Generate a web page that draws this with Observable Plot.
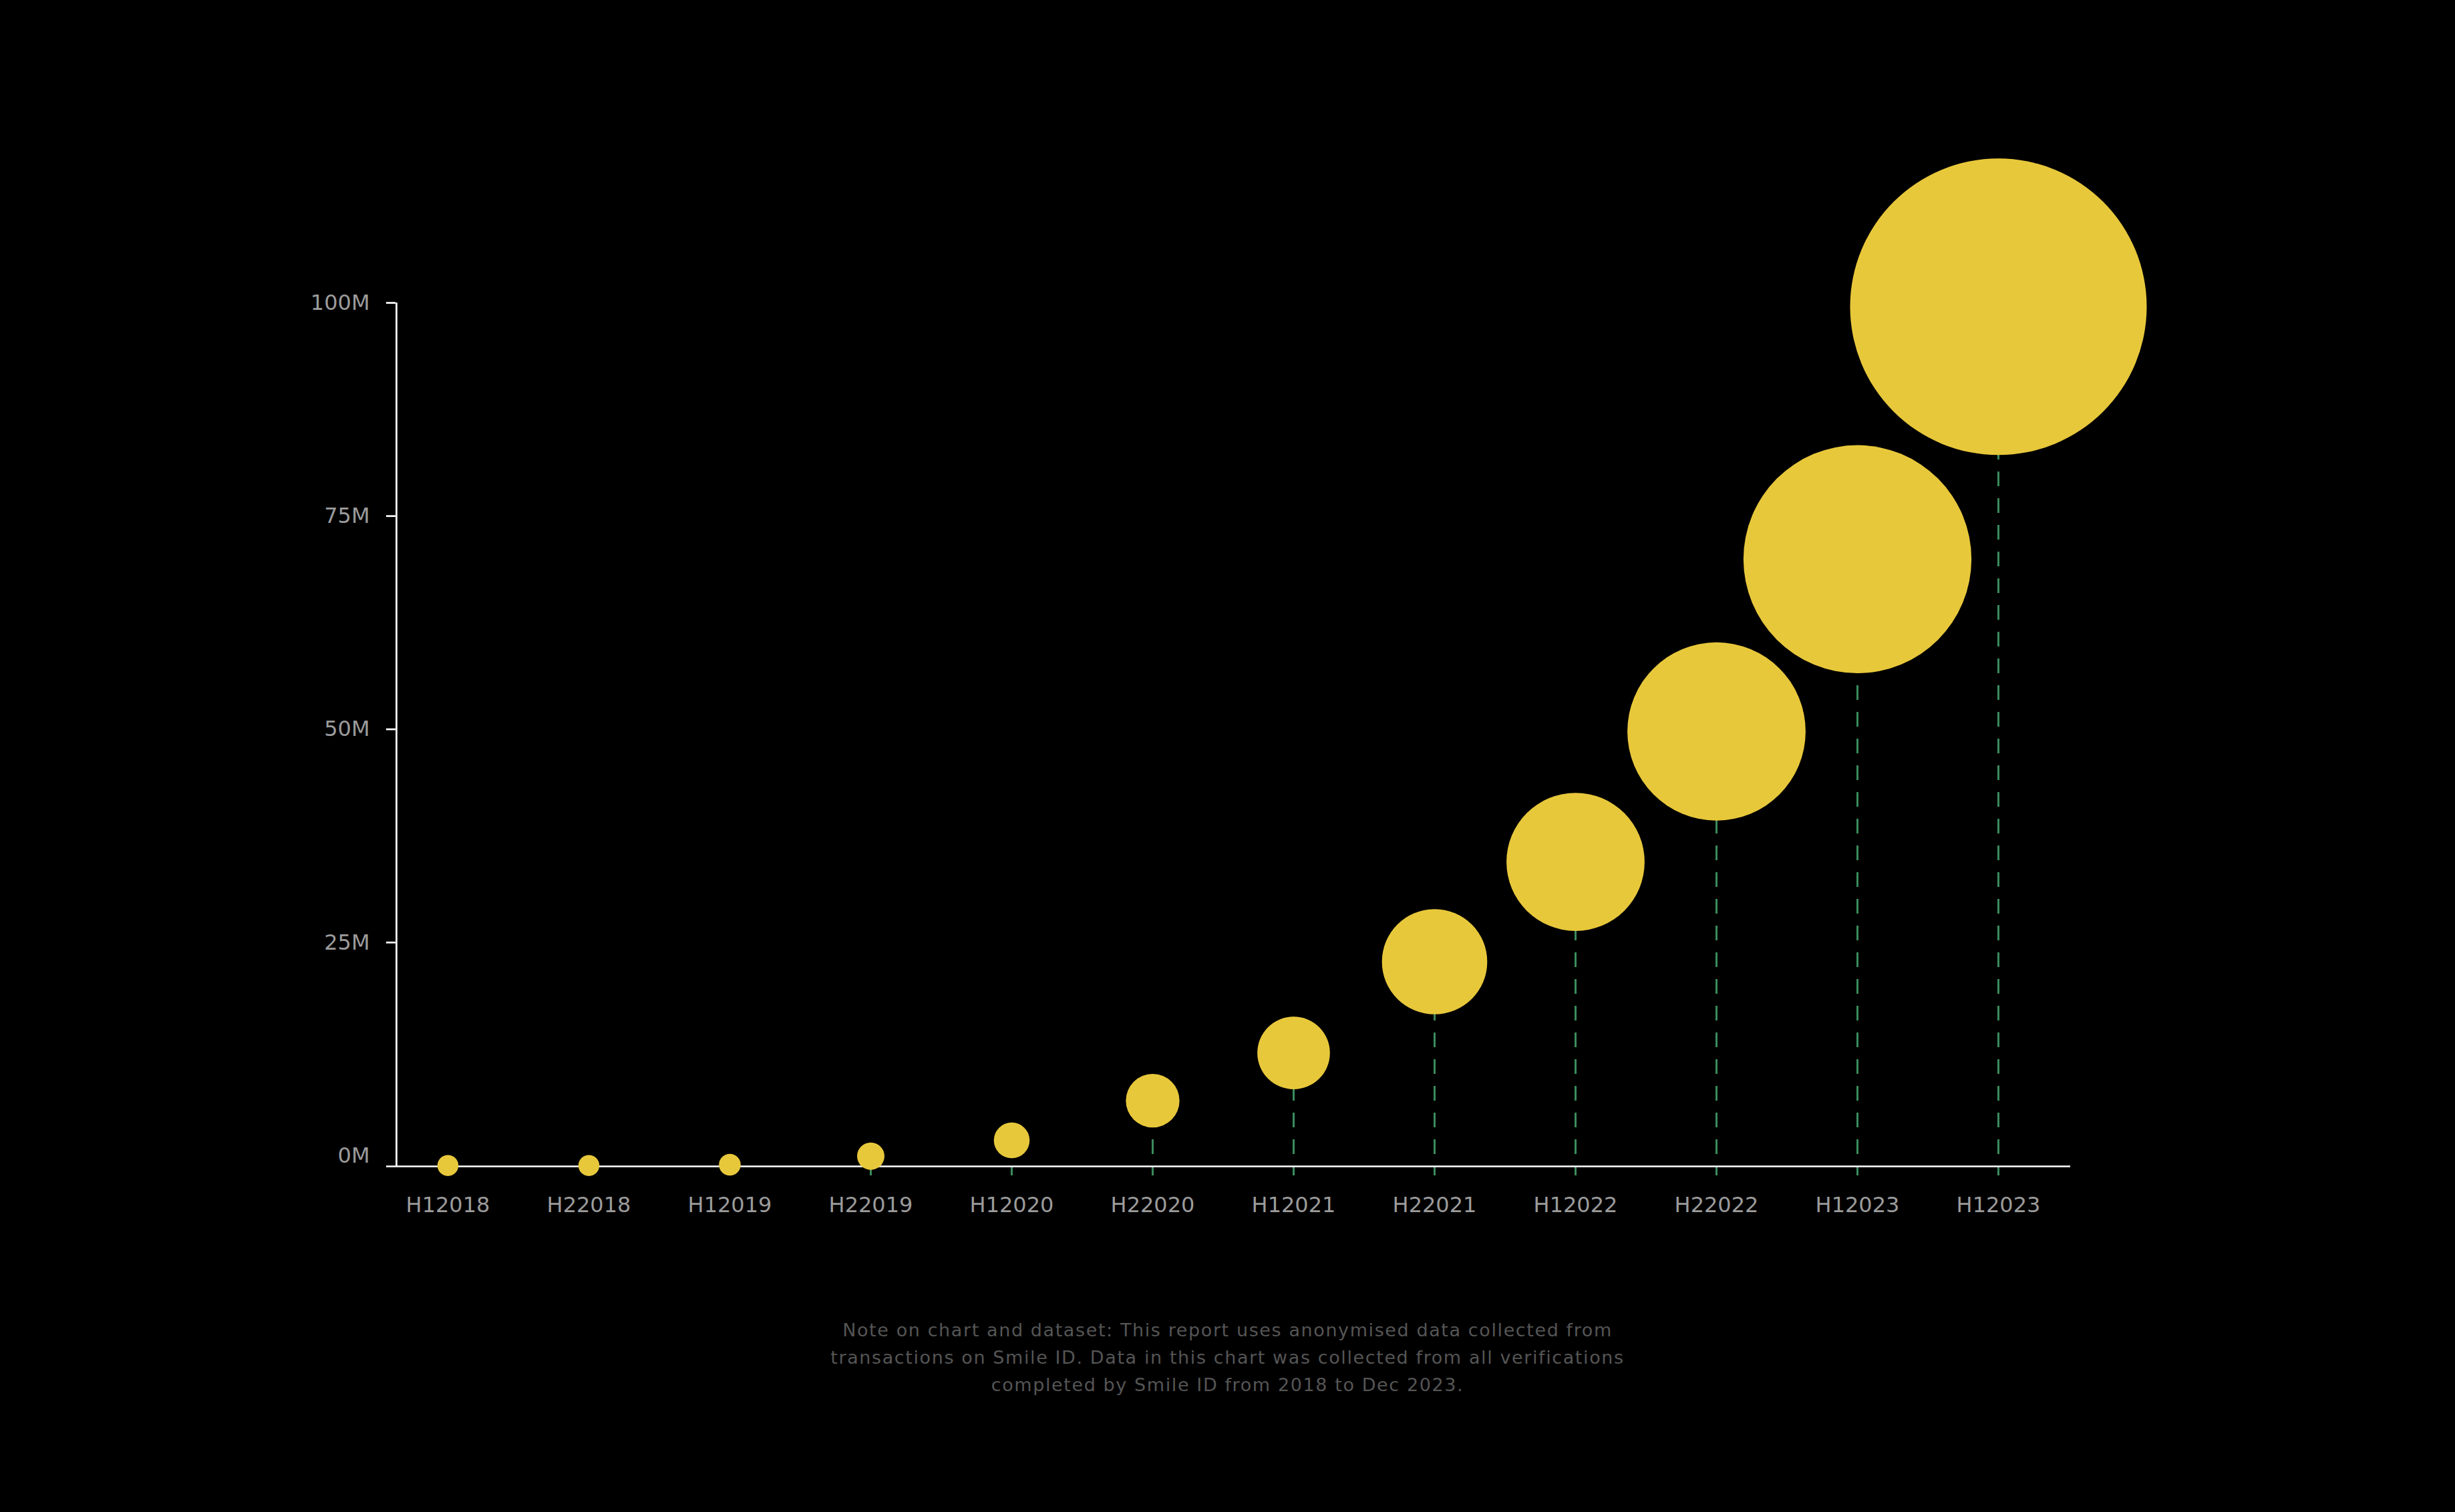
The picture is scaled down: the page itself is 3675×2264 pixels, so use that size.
<!DOCTYPE html>
<html>
<head>
<meta charset="utf-8">
<script src="https://cdn.jsdelivr.net/npm/d3@7"></script>
<script src="https://cdn.jsdelivr.net/npm/@observablehq/plot@0.6"></script>
<style>
  html, body { margin: 0; padding: 0; background: #000; }
  #chart { width: 3675px; }
  .caption {
    width: 3675px;
    margin-top: 71px;
    text-align: center;
    color: #555555;
    font-family: "DejaVu Sans", sans-serif;
    font-size: 27px;
    letter-spacing: 1.6px;
    line-height: 41px;
  }
</style>
</head>
<body>
<div id="chart"></div>
<div class="caption">Note on chart and dataset: This report uses anonymised data collected from<br>transactions on Smile ID. Data in this chart was collected from all verifications<br>completed by Smile ID from 2018 to Dec 2023.</div>
<script>
// Periods (tick labels as printed in the source, including the repeated last label)
const periods = ["H12018", "H22018", "H12019", "H22019", "H12020", "H22020",
                 "H12021", "H22021", "H12022", "H22022", "H12023", "H12023"];
// Verifications per period
const verifications = [0.1e6, 0.1e6, 0.2e6, 1.2e6, 3.05e6, 7.7e6,
                       13.3e6, 24e6, 35.7e6, 51e6, 71.2e6, 100.8e6];
// Y-axis ticks
const yTicks = [0, 25e6, 50e6, 75e6, 100e6];

const data = periods.map((p, i) => ({i, period: p, value: verifications[i]}));

const W = 3675, H = 1900;
const mLeft = 592, mRight = 576, mTop = 469, mBottom = 154;
const xInsetLeft = 77, xInsetRight = 108;

const yellow = "#e8c83b";
const green = "#3a8c5c";
const labelGray = "#9b9b9b";
const fmt = d => (d / 1e6) + "M";

const chart = Plot.plot({
  width: W,
  height: H,
  marginLeft: mLeft,
  marginRight: mRight,
  marginTop: mTop,
  marginBottom: mBottom,
  style: {
    background: "#000",
    color: "#fff",
    fontFamily: "'DejaVu Sans', sans-serif",
    fontSize: "32px"
  },
  x: {type: "point", domain: d3.range(periods.length), padding: 0,
      insetLeft: xInsetLeft, insetRight: xInsetRight, label: null},
  y: {domain: [0, 100e6], label: null},
  r: {type: "pow", exponent: 0.82, domain: [0, d3.max(verifications)], range: [15, 222]},
  marks: [
    Plot.axisX({
      tickSize: 14, tickPadding: 32,
      stroke: "#fff", strokeWidth: 2.7,
      fill: labelGray,
      tickFormat: i => periods[i],
      label: null
    }),
    Plot.ruleX(data, {
      x: "i", y1: 0, y2: "value",
      insetTop: 14,
      stroke: green, strokeWidth: 3,
      strokeDasharray: "22,18", strokeDashoffset: 8
    }),
    Plot.ruleY([0], {stroke: "#fff", strokeWidth: 2.7, insetLeft: -14}),
    Plot.ruleX([0], {x: d => d, y1: 100e6, y2: 0, dx: -xInsetLeft, insetTop: -16,
                     stroke: "#fff", strokeWidth: 2.7}),
    Plot.axisY({
      ticks: yTicks.filter(d => d > 0),
      tickSize: 14, dy: -16,
      stroke: "#fff", strokeWidth: 2.7,
      fill: "none", label: null
    }),
    Plot.axisY({
      ticks: yTicks,
      tickSize: 0, tickPadding: 39, dy: -16,
      fill: labelGray, stroke: "none",
      tickFormat: fmt, label: null
    }),
    Plot.dot(data, {x: "i", y: "value", r: "value", fill: yellow, stroke: null})
  ]
});

document.getElementById("chart").appendChild(chart);
</script>
</body>
</html>
